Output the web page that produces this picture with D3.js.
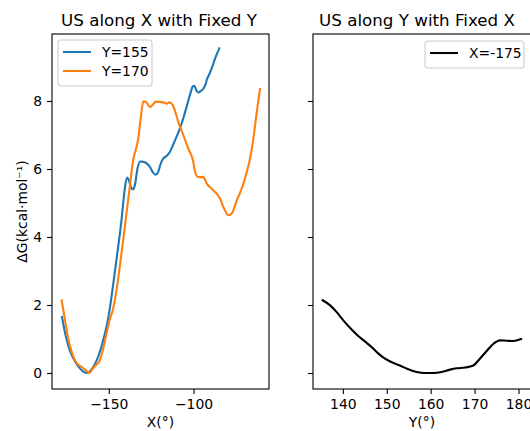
<!DOCTYPE html>
<html>
<head>
<meta charset="utf-8">
<script src="https://cdn.jsdelivr.net/npm/d3@7"></script>
<style>
  body { margin: 0; background: #fff; }
  svg { font-family: "DejaVu Sans", sans-serif; }
</style>
</head>
<body>
<div id="chart"></div>
<script>
// series along X with fixed Y
const xAlongX155 = [-177.6, -175.8, -173.9, -171.8, -169.6, -167.3, -165.0, -162.5, -160.6, -158.6,
  -156.5, -154.5, -152.5, -150.4, -148.5, -146.5, -144.5, -142.5, -141.3, -140.2, -139.2, -138.2,
  -137.0, -135.6, -134.5, -133.2, -131.6, -129.5, -127.3, -125.6, -124.0, -122.5, -121.0, -119.6,
  -118.0, -116.0, -114.0, -112.0, -110.0, -108.0, -106.0, -104.0, -102.0, -100.4, -99.6, -98.2,
  -97.1, -95.6, -94.2, -93.0, -92.0, -90.6, -89.0, -87.3, -84.8];
const yAlongX155 = [1.65, 1.18, 0.8, 0.52, 0.32, 0.15, 0.04, 0.0, 0.08, 0.22,
  0.45, 0.75, 1.12, 1.6, 2.2, 2.95, 3.7, 4.5, 5.1, 5.55, 5.75, 5.68,
  5.47, 5.4, 5.55, 5.98, 6.22, 6.21, 6.15, 6.05, 5.9, 5.83, 5.9, 6.12,
  6.3, 6.38, 6.5, 6.72, 6.95, 7.2, 7.5, 7.85, 8.2, 8.43, 8.45, 8.3,
  8.25, 8.3, 8.36, 8.48, 8.65, 8.8, 9.0, 9.25, 9.55];

const xAlongX170 = [-177.8, -175.8, -173.9, -171.9, -169.9, -168.0, -166.0, -164.0, -161.5, -159.5,
  -157.5, -155.6, -153.6, -151.2, -149.3, -147.7, -146.3, -145.3, -142.4, -139.8, -137.5, -135.5,
  -133.9, -132.6, -131.2, -129.6, -128.0, -125.7, -122.1, -117.8, -115.8, -114.3, -112.3, -110.9,
  -109.0, -106.0, -103.1, -100.1, -99.1, -97.2, -94.2, -92.2, -89.3, -86.3, -84.4, -82.4, -79.5,
  -77.5, -74.5, -71.6, -68.6, -66.7, -64.7, -62.7, -60.8];
const yAlongX170 = [2.14, 1.55, 1.0, 0.62, 0.37, 0.24, 0.18, 0.1, 0.0, 0.13,
  0.24, 0.34, 0.66, 1.2, 1.6, 1.84, 2.18, 2.48, 3.56, 4.6, 5.52, 6.3,
  6.6, 6.9, 7.48, 7.99, 7.97, 7.82, 7.98, 7.96, 7.92, 7.96, 7.88, 7.7,
  7.38, 6.99, 6.6, 6.2, 5.91, 5.76, 5.76, 5.57, 5.42, 5.27, 5.13, 4.88, 4.64,
  4.69, 5.08, 5.42, 5.91, 6.3, 6.9, 7.68, 8.35];

// series along Y with fixed X
const yAlongYm175 = [135.4, 137.1, 138.6, 140.1, 142.0, 143.5, 145.0, 146.6, 148.1, 149.6,
  151.1, 153.0, 154.9, 156.8, 158.7, 160.6, 162.5, 164.4, 165.9, 167.8, 169.7, 171.2,
  172.7, 174.3, 175.8, 177.3, 178.8, 180.6];
const gAlongYm175 = [2.14, 1.99, 1.79, 1.55, 1.28, 1.09, 0.93, 0.76, 0.57, 0.42,
  0.32, 0.22, 0.11, 0.03, 0.0, 0.0, 0.03, 0.1, 0.14, 0.16, 0.22, 0.42,
  0.64, 0.86, 0.96, 0.95, 0.94, 1.0];

const yTicks = [0, 2, 4, 6, 8];
const xTicksLeft = [-150, -100];
const xTicksRight = [140, 150, 160, 170, 180];
const titles = ["US along X with Fixed Y", "US along Y with Fixed X"];
const leftLegend = ["Y=155", "Y=170"];
const rightLegend = ["X=-175"];

const W = 530, H = 431;
const axTop = 34, axBottom = 389;
const left1 = 52, right1 = 269, left2 = 313, right2 = 531;

const svg = d3.select("#chart").append("svg")
  .attr("width", W).attr("height", H);

const y = d3.scaleLinear().domain([-0.47, 9.97]).range([axBottom, axTop]);
const x1 = d3.scaleLinear().domain([-183.5, -55.5]).range([left1, right1]);
const x2 = d3.scaleLinear().domain([133.2, 182.85]).range([left2, right2]);

const tickLen = 4.9, tickPad = 4.9, fs = 13.9;

function panel(x, ticks, l, r, title, titleX, xlabel, showYLabels) {
  const g = svg.append("g");
  const ax = d3.axisLeft(y).tickValues(yTicks).tickSize(tickLen).tickPadding(tickPad);
  if (!showYLabels) ax.tickFormat("");
  const gy = g.append("g").attr("transform", `translate(${l},0)`).call(ax);
  const gx = g.append("g").attr("transform", `translate(0,${axBottom})`)
    .call(d3.axisBottom(x).tickValues(ticks).tickSize(tickLen).tickPadding(tickPad));
  [gx, gy].forEach(a => {
    a.select(".domain").remove();
    a.selectAll("line").attr("stroke", "#000").attr("stroke-width", 1.1);
    a.selectAll("text").attr("fill", "#000").style("font-size", fs + "px")
      .style("font-family", "DejaVu Sans");
  });
  g.append("rect").attr("x", l).attr("y", axTop)
    .attr("width", r - l).attr("height", axBottom - axTop)
    .attr("fill", "none").attr("stroke", "#000").attr("stroke-width", 1.1);
  g.append("text").attr("x", titleX).attr("y", 26)
    .attr("text-anchor", "middle").style("font-size", "16.7px").text(title);
  g.append("text").attr("x", (l + r) / 2).attr("y", 427)
    .attr("text-anchor", "middle").style("font-size", fs + "px").text(xlabel);
  return g;
}

panel(x1, xTicksLeft, left1, right1, titles[0], 159, "X(°)", true);
panel(x2, xTicksRight, left2, right2, titles[1], 417, "Y(°)", false);

svg.append("text")
  .attr("transform", `translate(27,${(axTop + axBottom) / 2}) rotate(-90)`)
  .attr("text-anchor", "middle").style("font-size", fs + "px")
  .text("ΔG(kcal·mol⁻¹)");

svg.append("clipPath").attr("id", "c1").append("rect")
  .attr("x", left1).attr("y", axTop).attr("width", right1 - left1).attr("height", axBottom - axTop);
svg.append("clipPath").attr("id", "c2").append("rect")
  .attr("x", left2).attr("y", axTop).attr("width", right2 - left2).attr("height", axBottom - axTop);

const line1 = d3.line().x(d => x1(d[0])).y(d => y(d[1])).curve(d3.curveMonotoneX);
const line2 = d3.line().x(d => x2(d[0])).y(d => y(d[1])).curve(d3.curveMonotoneX);

const series = [
  {xs: xAlongX155, ys: yAlongX155, color: "#1f77b4"},
  {xs: xAlongX170, ys: yAlongX170, color: "#ff7f0e"}
];
svg.append("g").attr("clip-path", "url(#c1)")
  .selectAll("path").data(series).enter().append("path")
  .attr("d", s => line1(d3.zip(s.xs, s.ys)))
  .attr("fill", "none").attr("stroke", s => s.color).attr("stroke-width", 2.1)
  .attr("stroke-linejoin", "round").attr("stroke-linecap", "square");

svg.append("g").attr("clip-path", "url(#c2)").append("path")
  .attr("d", line2(d3.zip(yAlongYm175, gAlongYm175)))
  .attr("fill", "none").attr("stroke", "#000").attr("stroke-width", 2.1)
  .attr("stroke-linejoin", "round").attr("stroke-linecap", "square");

// legends
function legend(x0, y0, w, labels, colors) {
  const g = svg.append("g").attr("transform", `translate(${x0},${y0})`);
  g.append("rect").attr("width", w).attr("height", 8 + labels.length * 19)
    .attr("rx", 3).attr("fill", "#fff").attr("fill-opacity", 0.8)
    .attr("stroke", "#ccc").attr("stroke-width", 1.1);
  labels.forEach((t, i) => {
    const cy = 12 + i * 19;
    g.append("line").attr("x1", 5).attr("x2", 33).attr("y1", cy).attr("y2", cy)
      .attr("stroke", colors[i]).attr("stroke-width", 2.1);
    g.append("text").attr("x", 44).attr("y", cy + 5)
      .style("font-size", fs + "px").text(t);
  });
}
legend(58, 40, 94, leftLegend, ["#1f77b4", "#ff7f0e"]);
legend(425, 41, 99, rightLegend, ["#000"]);
</script>
</body>
</html>
